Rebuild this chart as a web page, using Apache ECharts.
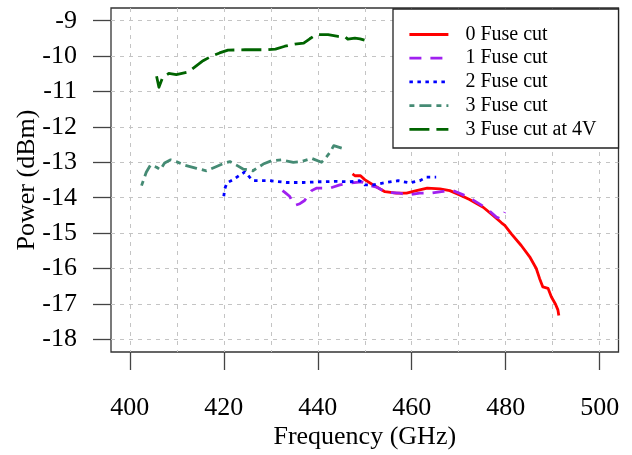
<!DOCTYPE html>
<html>
<head>
<meta charset="utf-8">
<script src="https://cdn.jsdelivr.net/npm/echarts@6/dist/echarts.min.js"></script>
<style>
html,body{margin:0;padding:0;background:#fff;}
#chart{width:632px;height:455px;}
</style>
</head>
<body>
<div id="chart"></div>
<script>
// ---- data ----
const seriesNames = ['0 Fuse cut', '1 Fuse cut', '2 Fuse cut', '3 Fuse cut', '3 Fuse cut at 4V'];

const fuse0X = [447.4, 447.9, 449.1, 450.0, 451.8, 454.3, 456.7, 458.9, 461.0, 463.3, 466.0, 468.1, 470.2, 472.3, 475.2, 477.3, 479.1, 479.8, 481.2, 483.3, 485.1, 486.5, 487.2, 487.9, 489.0, 489.7, 490.6, 491.1, 491.3];
const fuse0Y = [-13.33, -13.38, -13.38, -13.49, -13.64, -13.83, -13.87, -13.87, -13.80, -13.73, -13.75, -13.80, -13.92, -14.05, -14.27, -14.50, -14.71, -14.78, -15.02, -15.35, -15.67, -16.00, -16.28, -16.52, -16.56, -16.80, -17.01, -17.17, -17.33];

const fuse1X = [432.5, 433.0, 434.0, 435.1, 436.2, 437.2, 438.7, 439.7, 442.6, 444.7, 447.2, 449.3, 450.4, 452.5, 454.6, 457.4, 459.2, 461.7, 464.2, 466.7, 468.8, 471.3, 473.0, 475.9, 478.0, 479.1, 479.8];
const fuse1Y = [-13.80, -13.85, -13.96, -14.22, -14.17, -14.08, -13.80, -13.73, -13.73, -13.64, -13.58, -13.55, -13.64, -13.70, -13.85, -13.87, -13.92, -13.87, -13.87, -13.82, -13.80, -13.94, -14.06, -14.30, -14.55, -14.60, -14.41];

const fuse2X = [420.0, 420.2, 420.7, 422.0, 423.8, 424.5, 425.5, 426.2, 429.8, 433.3, 436.9, 440.4, 444.0, 446.8, 448.9, 450.0, 451.8, 454.6, 457.1, 459.6, 461.7, 463.1, 465.2];
const fuse2Y = [-13.96, -13.75, -13.58, -13.49, -13.33, -13.27, -13.42, -13.52, -13.52, -13.57, -13.57, -13.55, -13.54, -13.55, -13.52, -13.64, -13.64, -13.57, -13.52, -13.58, -13.52, -13.42, -13.42];

const fuse3X = [402.5, 403.5, 404.4, 405.7, 406.5, 407.4, 408.7, 409.9, 411.7, 414.2, 416.3, 418.1, 420.2, 421.3, 422.7, 424.1, 426.2, 428.4, 430.1, 432.3, 434.8, 436.5, 438.7, 440.8, 441.5, 442.6, 443.4, 445.4];
const fuse3Y = [-13.66, -13.28, -13.08, -13.14, -13.21, -13.02, -12.93, -12.98, -13.08, -13.17, -13.24, -13.14, -13.02, -12.98, -13.08, -13.19, -13.24, -13.05, -12.96, -12.93, -13.00, -12.98, -12.89, -13.00, -12.91, -12.72, -12.53, -12.61];

const fuse3at4VX = [405.7, 406.2, 407.0, 408.3, 409.9, 412.4, 413.8, 415.6, 417.4, 419.1, 420.9, 424.5, 429.4, 431.0, 433.0, 435.1, 437.0, 438.3, 439.7, 442.2, 444.3, 445.7, 446.4, 447.9, 449.0, 450.2, 451.3];
const fuse3at4VY = [-10.57, -10.88, -10.60, -10.49, -10.52, -10.45, -10.31, -10.13, -10.00, -9.91, -9.83, -9.82, -9.82, -9.80, -9.72, -9.66, -9.63, -9.51, -9.39, -9.39, -9.44, -9.44, -9.52, -9.49, -9.51, -9.56, -9.56];

const xTicks = [400, 420, 440, 460, 480, 500];
const yTicks = [-18, -17, -16, -15, -14, -13, -12, -11, -10, -9];

// ---- chart ----
const FONT = '"Liberation Serif", "Times New Roman", serif';
function pairs(xs, ys) { return xs.map((x, i) => [x, ys[i]]); }

const styles = [
  { color: '#FF0000', type: 'solid' },
  { color: '#A020F0', type: [12, 9] },
  { color: '#0000FF', type: [3.5, 4.5] },
  { color: '#458B74', type: [5, 5, 12, 5] },
  { color: '#006400', type: [20, 7] }
];
const dataSets = [
  pairs(fuse0X, fuse0Y),
  pairs(fuse1X, fuse1Y),
  pairs(fuse2X, fuse2Y),
  pairs(fuse3X, fuse3Y),
  pairs(fuse3at4VX, fuse3at4VY)
];

const chart = echarts.init(document.getElementById('chart'), null, { renderer: 'canvas' });
const gridLine = { show: true, showMinLine: false, showMaxLine: false, lineStyle: { color: '#c4c4c4', width: 1, type: [4, 5] } };

chart.setOption({
  animation: false,
  backgroundColor: '#fff',
  textStyle: { fontFamily: FONT },
  grid: {
    left: 111, top: 8, right: 13.5, bottom: 102.3,
    show: true, borderColor: '#333', borderWidth: 1.3, backgroundColor: 'transparent'
  },
  xAxis: [
    {
      type: 'value', min: 396, max: 504, splitNumber: 10, position: 'bottom',
      axisLine: { show: false }, axisTick: { show: false }, axisLabel: { show: false },
      splitLine: gridLine,
      name: 'Frequency (GHz)', nameLocation: 'middle', nameGap: 72,
      nameTextStyle: { fontFamily: FONT, fontSize: 26, color: '#000' }
    },
    {
      type: 'value', min: 396, max: 504, position: 'bottom',
      axisLine: { show: false },
      axisTick: { show: true, customValues: xTicks, length: 18, inside: false, lineStyle: { color: '#444', width: 1.3 } },
      axisLabel: { show: true, customValues: xTicks, margin: 43, fontFamily: FONT, fontSize: 26, color: '#000' },
      splitLine: { show: false }
    }
  ],
  yAxis: [
    {
      type: 'value', min: -18.36, max: -8.64, splitNumber: 10, position: 'left',
      axisLine: { show: false }, axisTick: { show: false }, axisLabel: { show: false },
      splitLine: gridLine,
      name: 'Power (dBm)', nameLocation: 'middle', nameGap: 71,
      nameTextStyle: { fontFamily: FONT, fontSize: 26, color: '#000' }
    },
    {
      type: 'value', min: -18.36, max: -8.64, position: 'left',
      axisLine: { show: false },
      axisTick: { show: true, customValues: yTicks, length: 18, inside: false, lineStyle: { color: '#444', width: 1.3 } },
      axisLabel: { show: true, customValues: yTicks, margin: 34, fontFamily: FONT, fontSize: 26, color: '#000' },
      splitLine: { show: false }
    }
  ],
  legend: {
    orient: 'vertical', left: 393, top: 9,
    padding: [15.5, 22, 8.7, 15],
    itemWidth: 39, itemHeight: 14, itemGap: 3.7,
    backgroundColor: '#fff', borderColor: '#222', borderWidth: 1.3, borderRadius: 0,
    itemStyle: { opacity: 0, borderWidth: 0 },
    lineStyle: { width: 2.8 },
    textStyle: { fontFamily: FONT, fontSize: 20, color: '#000', padding: [0, 0, 0, 12] },
    data: seriesNames
  },
  series: seriesNames.map((name, i) => ({
    name: name, type: 'line', xAxisIndex: 0, yAxisIndex: 0,
    data: dataSets[i], showSymbol: false, symbol: 'none',
    lineStyle: { color: styles[i].color, width: 2.8, type: styles[i].type, cap: 'butt', join: 'round' },
    itemStyle: { color: styles[i].color },
    z: 3 + i
  }))
});
</script>
</body>
</html>
